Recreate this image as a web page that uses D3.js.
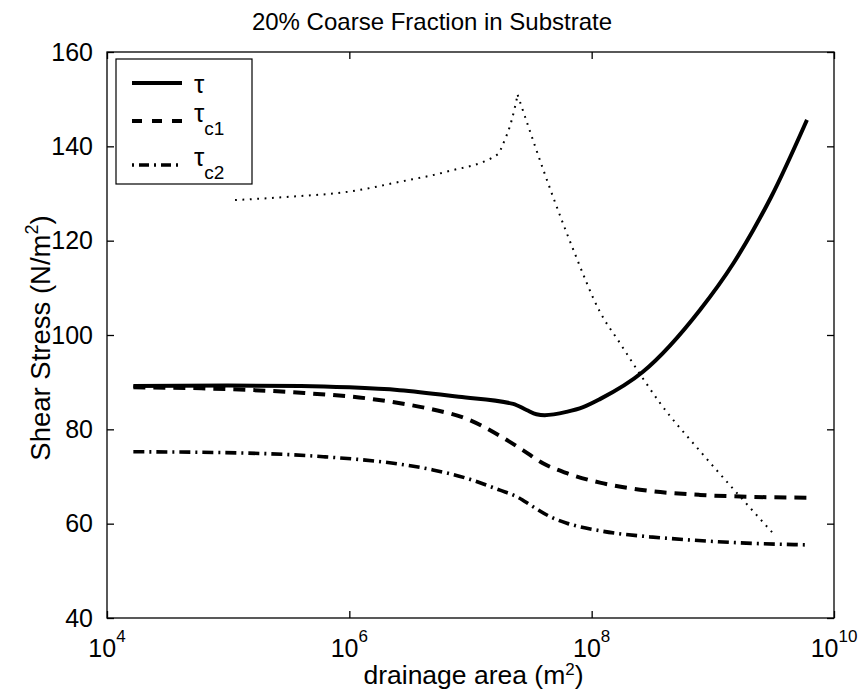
<!DOCTYPE html>
<html>
<head>
<meta charset="utf-8">
<script src="https://cdn.jsdelivr.net/npm/d3@7"></script>
<style>
  html, body { margin: 0; padding: 0; background: #fff; }
  svg { display: block; }
  text { font-family: "Liberation Sans", Arial, Helvetica, sans-serif; fill: #000; }
</style>
</head>
<body>
<svg id="chart" width="864" height="695"></svg>
<script>
// Bed shear stress τ and critical stresses τc1, τc2 along drainage area
const tauArea = [1.65e4, 1e5, 4e5, 1e6, 2.6e6, 8e6, 2.25e7, 2.9e7, 3.5e7, 4.1e7, 6.2e7, 8.5e7, 1.17e8, 2.65e8, 7.83e8, 1.47e9, 2.14e9, 3.02e9, 5.98e9];
const tauValue = [89.2, 89.3, 89.2, 88.9, 88.3, 86.9, 85.4, 84.1, 83.2, 83.0, 83.7, 84.7, 86.4, 92.2, 105.3, 115.1, 122.1, 129.2, 145.6];

const tc1Area = [1.65e4, 6e4, 3.7e5, 1.57e6, 2.97e6, 4.9e6, 9.35e6, 1.75e7, 2.7e7, 3.96e7, 6.25e7, 1.17e8, 2.5e8, 7.8e8, 2e9, 6e9];
const tc1Value = [88.9, 88.7, 87.8, 86.4, 85.3, 84.2, 82.2, 78.6, 75.6, 72.8, 70.7, 68.7, 67.2, 66.1, 65.7, 65.5];

const tc2Area = [1.65e4, 1.25e5, 6.1e5, 2.97e6, 4.9e6, 9.35e6, 1.75e7, 2.42e7, 3.28e7, 4.53e7, 6.25e7, 1.17e8, 3.03e8, 4.2e8, 1.47e9, 6e9];
const tc2Value = [75.25, 75.0, 74.2, 72.4, 71.4, 69.6, 67.1, 65.7, 63.6, 61.5, 60.1, 58.5, 57.2, 56.9, 56.0, 55.5];

// Unlabelled dotted curve
const dotArea = [1.14e5, 3.16e5, 1e6, 2.63e6, 6.3e6, 1.7e7, 1.82e7, 2.19e7, 2.45e7, 4.8e7, 7.28e7, 1.17e8, 1.71e8, 2.6e8, 3.66e8, 7.83e8, 1.58e9, 3.08e9];
const dotValue = [128.6, 129.3, 130.4, 132.5, 134.6, 138.4, 140.0, 145.6, 150.9, 129.3, 117.2, 104.9, 98.3, 91.1, 85.6, 75.4, 66.5, 58.2];

const xTickValues = [1e4, 1e6, 1e8, 1e10];
const xTickExponents = ["4", "6", "8", "10"];
const yTickValues = [40, 60, 80, 100, 120, 140, 160];

const legendLabels = [
  { main: "τ", sub: "" },
  { main: "τ", sub: "c1" },
  { main: "τ", sub: "c2" }
];

const svg = d3.select("#chart");
const plotLeft = 107, plotRight = 834, plotTop = 52, plotBottom = 618;

const x = d3.scaleLog().domain([1e4, 1e10]).range([plotLeft, plotRight]);
const y = d3.scaleLinear().domain([40, 160]).range([plotBottom, plotTop]);

const styles = [
  { width: 4, dash: null },
  { width: 4, dash: "12,8" },
  { width: 3.6, dash: "11,5,2,5" }
];

const line = d3.line()
  .x(d => x(d[0]))
  .y(d => y(d[1]))
  .curve(d3.curveMonotoneX);

const zip = (a, b) => a.map((v, i) => [v, b[i]]);

const plot = svg.append("g");

// Dotted curve: rising and falling branches meet at a sharp peak
const dotPts = zip(dotArea, dotValue);
const peak = d3.maxIndex(dotValue);
[dotPts.slice(0, peak + 1), dotPts.slice(peak)].forEach(seg => {
  plot.append("path")
    .datum(seg)
    .attr("d", line)
    .attr("fill", "none")
    .attr("stroke", "#000")
    .attr("stroke-width", 2)
    .attr("stroke-dasharray", "1.8,5.6");
});

[[tauArea, tauValue], [tc1Area, tc1Value], [tc2Area, tc2Value]].forEach((s, i) => {
  plot.append("path")
    .datum(zip(s[0], s[1]))
    .attr("d", line)
    .attr("fill", "none")
    .attr("stroke", "#000")
    .attr("stroke-width", styles[i].width)
    .attr("stroke-dasharray", styles[i].dash);
});

// Axes box
svg.append("rect")
  .attr("x", plotLeft).attr("y", plotTop)
  .attr("width", plotRight - plotLeft).attr("height", plotBottom - plotTop)
  .attr("fill", "none").attr("stroke", "#000").attr("stroke-width", 1.3);

// Axes with inward ticks on all four sides
const fontSize = 25;
const yAxisL = d3.axisLeft(y).tickValues(yTickValues).tickSizeInner(-7).tickSizeOuter(0).tickPadding(14);
const yAxisR = d3.axisRight(y).tickValues(yTickValues).tickSizeInner(-7).tickSizeOuter(0).tickFormat("");
const xAxisB = d3.axisBottom(x).tickValues(xTickValues).tickSizeInner(-7).tickSizeOuter(0).tickFormat("");
const xAxisT = d3.axisTop(x).tickValues(xTickValues).tickSizeInner(-7).tickSizeOuter(0).tickFormat("");

function styleAxis(g) {
  g.select(".domain").remove();
  g.selectAll(".tick line").attr("stroke", "#000").attr("stroke-width", 1.3);
}

svg.append("g").attr("transform", `translate(${plotLeft},0)`).call(yAxisL).call(styleAxis)
  .selectAll(".tick text")
  .attr("font-size", fontSize)
  .attr("font-family", "Liberation Sans, Arial, sans-serif")
  .attr("fill", "#000");
svg.append("g").attr("transform", `translate(${plotRight},0)`).call(yAxisR).call(styleAxis);
svg.append("g").attr("transform", `translate(0,${plotBottom})`).call(xAxisB).call(styleAxis);
svg.append("g").attr("transform", `translate(0,${plotTop})`).call(xAxisT).call(styleAxis);

// Power-of-ten tick labels
const xl = svg.append("g");
xTickValues.forEach((v, i) => {
  const t = xl.append("text")
    .attr("x", x(v))
    .attr("y", 657)
    .attr("text-anchor", "middle")
    .attr("font-size", fontSize);
  t.append("tspan").text("10");
  t.append("tspan").attr("dy", -15).attr("font-size", 17).text(xTickExponents[i]);
});

// Axis titles
const labelSize = 26.5;
const xt = svg.append("text")
  .attr("x", (plotLeft + plotRight) / 2 + 3)
  .attr("y", 684)
  .attr("text-anchor", "middle")
  .attr("font-size", labelSize);
xt.append("tspan").text("drainage area (m");
xt.append("tspan").attr("dy", -9).attr("font-size", 17).text("2");
xt.append("tspan").attr("dy", 9).text(")");

const yt = svg.append("text")
  .attr("transform", `translate(50,${(plotTop + plotBottom) / 2 + 3}) rotate(-90)`)
  .attr("text-anchor", "middle")
  .attr("font-size", 27.5);
yt.append("tspan").text("Shear Stress (N/m");
yt.append("tspan").attr("dy", -12).attr("font-size", 18).text("2");
yt.append("tspan").attr("dy", 12).text(")");

svg.append("text")
  .attr("x", 432)
  .attr("y", 30)
  .attr("text-anchor", "middle")
  .attr("font-size", 24)
  .text("20% Coarse Fraction in Substrate");

// Legend
const lg = svg.append("g");
lg.append("rect")
  .attr("x", 116).attr("y", 59)
  .attr("width", 136).attr("height", 125)
  .attr("fill", "#fff").attr("stroke", "#000").attr("stroke-width", 1.2);
const rowY = [83, 121, 165];
legendLabels.forEach((d, i) => {
  lg.append("line")
    .attr("x1", 132).attr("x2", 182)
    .attr("y1", rowY[i]).attr("y2", rowY[i])
    .attr("stroke", "#000")
    .attr("stroke-width", styles[i].width)
    .attr("stroke-dasharray", i === 1 ? "10,10" : (i === 2 ? "2,5,10,5" : null));
  const t = lg.append("text")
    .attr("x", 194)
    .attr("y", i === 0 ? 93 : rowY[i] + 1)
    .attr("font-size", 26);
  t.append("tspan").text(d.main);
  if (d.sub) {
    t.append("tspan").attr("dy", 13).attr("font-size", 19).text(d.sub);
  }
});
</script>
</body>
</html>
